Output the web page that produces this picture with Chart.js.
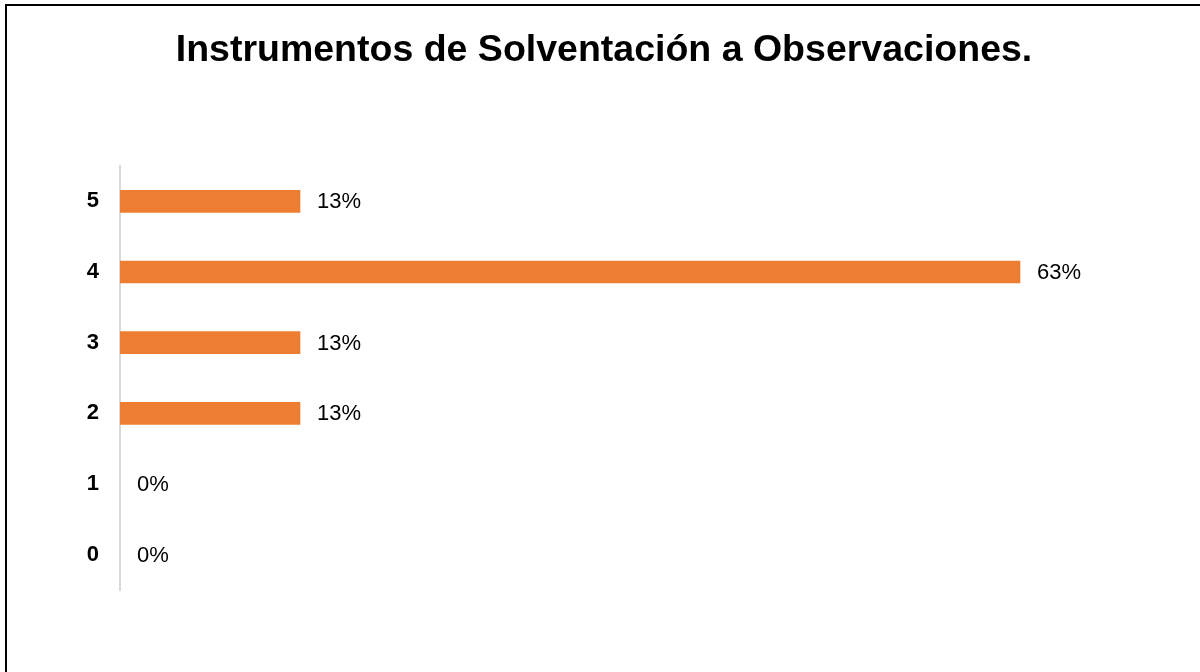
<!DOCTYPE html>
<html lang="es">
<head>
<meta charset="utf-8">
<title>Instrumentos de Solventación a Observaciones.</title>
<script src="https://cdn.jsdelivr.net/npm/chart.js@4.4.1/dist/chart.umd.min.js"></script>
<style>
  html, body { margin: 0; padding: 0; background: #fff; }
  #wrap  { position: relative; width: 1200px; height: 672px; overflow: hidden; }
  #frame { position: absolute; left: 5px; top: 4px; right: 0; bottom: -10px;
           border-top: 2px solid #000; border-left: 2px solid #000; pointer-events: none; }
  canvas { position: absolute; left: 0; top: 0; }
</style>
</head>
<body>
<div id="wrap">
  <canvas id="chart" width="1200" height="672"></canvas>
  <div id="frame"></div>
</div>
<script>
/* ── Data ── */
const categories = ['5', '4', '3', '2', '1', '0'];
const values     = [12.5, 62.5, 12.5, 12.5, 0, 0];
const titleText  = 'Instrumentos de Solventación a Observaciones.';

const FONT = "'Liberation Sans', Arial, sans-serif";

/* ── Value labels next to each bar ── */
const barLabels = {
  id: 'barLabels',
  afterDatasetsDraw(chart) {
    const ctx  = chart.ctx;
    const meta = chart.getDatasetMeta(0);
    ctx.save();
    ctx.font = '22px ' + FONT;
    ctx.fillStyle = '#000';
    ctx.textAlign = 'left';
    ctx.textBaseline = 'middle';
    meta.data.forEach((bar, i) => {
      ctx.fillText(Math.round(values[i]) + '%', bar.x + 17, bar.y + 1);
    });
    ctx.restore();
  }
};

new Chart(document.getElementById('chart'), {
  type: 'bar',
  data: {
    labels: categories,
    datasets: [{
      data:            values,
      backgroundColor: ctx => ctx.raw > 0 ? '#ED7D31' : 'rgba(0,0,0,0)',
      borderWidth:     0,
      barThickness:    22,
    }],
  },
  options: {
    indexAxis: 'y',
    responsive: false,
    animation: false,
    layout: { padding: { top: 0, left: 8, right: 0, bottom: 82 } },
    plugins: {
      legend:  { display: false },
      tooltip: { enabled: false },
      title: {
        display: true,
        text:    titleText,
        color:   '#000',
        font:    { family: FONT, size: 37.5, weight: 'bold', lineHeight: 1.2 },
        padding: { top: 28, bottom: 93 },
      },
    },
    scales: {
      x: { display: false, min: 0, max: 75 },
      y: {
        afterFit: s => { s.width = 112; },
        grid:   { display: false },
        border: { display: true, color: '#d9d9d9', width: 2 },
        ticks:  { color: '#000', padding: 13, font: { family: FONT, size: 22, weight: 'bold' } },
      },
    },
  },
  plugins: [barLabels],
});
</script>
</body>
</html>
